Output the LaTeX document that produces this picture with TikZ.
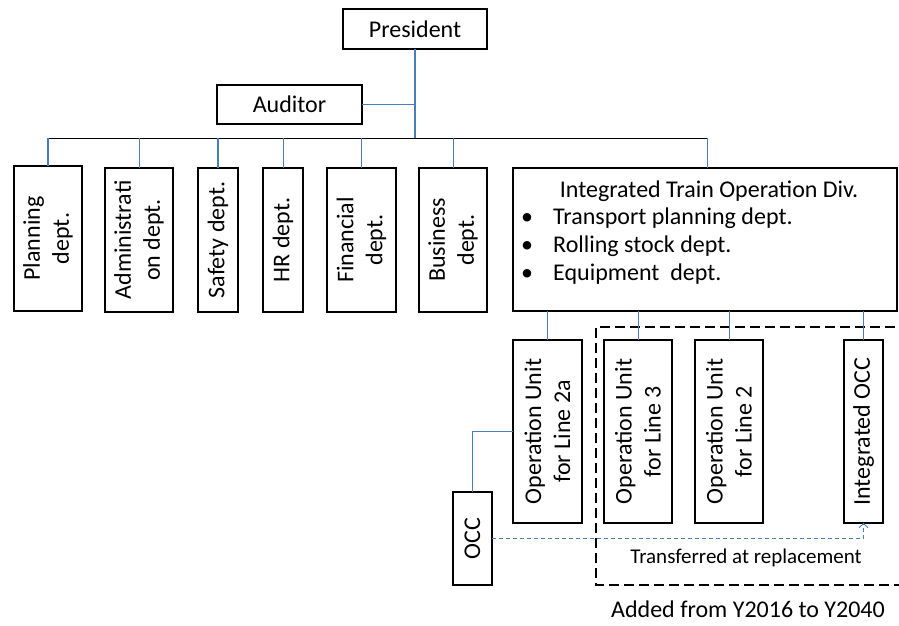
\documentclass[tikz,border=0pt]{standalone}
\usepackage{fontspec}
\setmainfont{Carlito}
\usetikzlibrary{arrows.meta}
\definecolor{linkblue}{RGB}{74,126,187}

% rectangle node from its corner coordinates: name, x1, y1, x2, y2
\newcommand\orgbox[5]{%
  \node[box, minimum width={(#4)-(#2)}, minimum height={(#5)-(#3)}]
    (#1) at ({((#2)+(#4))/2},{((#3)+(#5))/2}) {};}

\begin{document}
\begin{tikzpicture}[x=1pt,y=-1pt,
  box/.style={draw=black, line width=2.4pt, fill=white, inner sep=0pt, outer sep=0pt},
  txt/.style={font=\fontsize{24}{29}\selectfont, inner sep=0pt},
  vlabel/.style={txt, rotate=90, align=center},
  bus/.style={draw=black, line width=0.9pt},
  linkthin/.style={draw=linkblue, line width=0.9pt},
  linkthick/.style={draw=linkblue, line width=1.8pt},
  future/.style={draw=black, line width=2.6pt, dash pattern=on 10pt off 5pt},
  transfer/.style={draw=linkblue, line width=0.9pt, dash pattern=on 4pt off 3pt,
    -{Straight Barb[length=4pt,width=9pt]}}
]
\useasboundingbox (0,0) rectangle (899,625);
\clip (0,0) rectangle (899,625);

% group added later: open on the right
\draw[future] (910,327) -- (596,327) -- (596,585) -- (910,585);

% top management
\orgbox{president}{343}{9}{487}{49}
\node[txt] (presidenttext) at (president.center) {President};
\orgbox{auditor}{217}{85}{362}{124}
\node[txt] (auditortext) at (auditor.center) {Auditor};

% departments
\orgbox{planning}{14}{166}{82}{311}
\node[vlabel] (planningtext) at (planning.center) {Planning\\dept.};
\orgbox{admin}{105}{168}{173}{312}
\node[vlabel] (admintext) at (admin.center) {Administrati\\on dept.};
\orgbox{safety}{198}{168}{238}{312}
\node[vlabel] (safetytext) at (safety.center) {Safety dept.};
\orgbox{hr}{263}{168}{303}{312}
\node[vlabel] (hrtext) at (hr.center) {HR dept.};
\orgbox{financial}{327}{168}{396}{312}
\node[vlabel] (financialtext) at (financial.center) {Financial\\dept.};
\orgbox{business}{419}{168}{487}{312}
\node[vlabel] (businesstext) at (business.center) {Business\\dept.};

% integrated train operation division
\orgbox{itod}{513}{168}{897}{311}
\node[txt, anchor=base] (itodtitle) at (709,197) {Integrated Train Operation Div.};
\node[txt, anchor=base] (bulletA) at (527,224) {•};
\node[txt, anchor=base west] (itodA) at (553,224) {Transport planning dept.};
\node[txt, anchor=base] (bulletB) at (527,252) {•};
\node[txt, anchor=base west] (itodB) at (553,252) {Rolling stock dept.};
\node[txt, anchor=base] (bulletC) at (527,280) {•};
\node[txt, anchor=base west] (itodC) at (553,280) {Equipment\ \ dept.};

% operation units
\orgbox{opA}{513}{340}{582}{523}
\node[vlabel] (opAtext) at (opA.center) {Operation Unit\\for Line 2a};
\orgbox{opB}{604}{340}{672}{523}
\node[vlabel] (opBtext) at (opB.center) {Operation Unit\\for Line 3};
\orgbox{opC}{695}{340}{763}{523}
\node[vlabel] (opCtext) at (opC.center) {Operation Unit\\for Line 2};
\orgbox{intocc}{844}{340}{883}{523}
\node[vlabel] (intocctext) at (intocc.center) {Integrated OCC};
\orgbox{occ}{453}{492}{492}{585}
\node[vlabel] (occtext) at (occ.center) {OCC};

% reporting lines
\coordinate (busL) at (48,138);
\coordinate (busR) at (707,138);
\draw[bus] (busL) -- (busR);
\draw[linkthick] (president.south) -- (president.south |- busL);
\draw[linkthin] (auditor.east) -- (auditor.east -| president.south);
\draw[linkthick] (planning.north |- busL) -- (planning.north);
\draw[linkthin] (admin.north |- busL) -- (admin.north);
\draw[linkthick] (safety.north |- busL) -- (safety.north);
\draw[linkthin] (hr.north |- busL) -- (hr.north);
\draw[linkthin] (financial.north |- busL) -- (financial.north);
\draw[linkthin] (business.north |- busL) -- (business.north);
\draw[linkthin] (busR) -- (busR |- itod.north);
\draw[linkthick] (opA.north |- itod.south) -- (opA.north);
\draw[linkthin] (opB.north |- itod.south) -- (opB.north);
\draw[linkthin] (opC.north |- itod.south) -- (opC.north);
\draw[linkthin] (intocc.north |- itod.south) -- (intocc.north);
\draw[linkthin] (occ.north) |- (opA.west);
\draw[transfer] (occ.east) -| (intocc.south);

% notes
\node[font=\fontsize{21}{25}\selectfont, inner sep=0pt, anchor=base] (transfernote) at (746,563) {Transferred at replacement};
\node[txt, anchor=base] (addednote) at (748,617) {Added from Y2016 to Y2040};
\end{tikzpicture}
\end{document}
